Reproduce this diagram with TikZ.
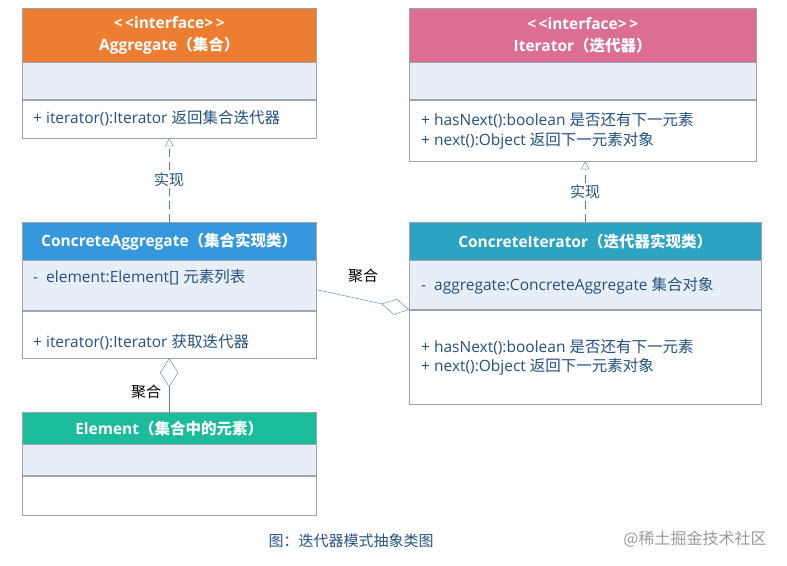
\documentclass[tikz,border=0pt]{standalone}
\usepackage{fontspec}
\setmainfont{Open Sans}
\newfontfamily\cjk{Noto Sans CJK SC}
\usetikzlibrary{arrows.meta}
\definecolor{cOrange}{HTML}{ED7D31}
\definecolor{cPink}{HTML}{DC6E94}
\definecolor{cBlue}{HTML}{3598DC}
\definecolor{cTeal}{HTML}{2BA3C1}
\definecolor{cGreen}{HTML}{1ABC9C}
\definecolor{cAttr}{HTML}{E8EEF7}
\definecolor{cBorder}{HTML}{A0A3AA}
\definecolor{cText}{HTML}{24527F}
\definecolor{cLine}{HTML}{4A82B4}
\definecolor{cGray}{HTML}{9A9A9A}
\newcommand{\zh}[1]{{\cjk #1}}
\tikzset{
  hdr/.style={draw=cBorder, anchor=north west, inner sep=0pt, text=white, font=\fontsize{15.5}{22}\selectfont\bfseries, align=center},
  attr/.style={draw=cBorder, fill=cAttr, anchor=north west, inner sep=0pt},
  meth/.style={draw=cBorder, fill=white, anchor=north west, inner sep=0pt},
  txt/.style={anchor=west, inner sep=0pt, text=cText, font=\fontsize{15.5}{20}\selectfont},
  lbl/.style={fill=white, inner sep=1pt, font=\fontsize{15}{16}\selectfont\cjk},
  real/.style={draw=cLine, dash pattern=on 8pt off 5pt, -{Triangle[open, length=8pt, width=8pt]}},
  aggr/.style={draw=cLine, -{Diamond[open, #1]}},
}
\begin{document}
\begin{tikzpicture}[x=1pt, y=-1pt]
\useasboundingbox (0,0) rectangle (787,565);
% Aggregate
\node[hdr, fill=cOrange, minimum width=294pt, minimum height=54pt] (aggH) at (22,8) {<\,<interface>\,>\\Aggregate\zh{（集合）}};
\node[attr, minimum width=294pt, minimum height=37pt] (aggA) at (aggH.south west) {};
\node[meth, minimum width=294pt, minimum height=38pt] (aggM) at (aggA.south west) {};
\node[txt] (aggM1) at (33,118) {+ iterator():Iterator \zh{返回集合迭代器}};
% Iterator
\node[hdr, fill=cPink, minimum width=347pt, minimum height=54pt] (itH) at (409,8) {<\,<interface>\,>\\Iterator\zh{（迭代器）}};
\node[attr, minimum width=347pt, minimum height=37pt] (itA) at (itH.south west) {};
\node[meth, minimum width=347pt, minimum height=61pt] (itM) at (itA.south west) {};
\node[txt] (itM1) at (421,120) {+ hasNext():boolean \zh{是否还有下一元素}};
\node[txt] (itM2) at (421,141) {+ next():Object \zh{返回下一元素对象}};
% ConcreteAggregate
\node[hdr, fill=cBlue, minimum width=294pt, minimum height=38pt] (caH) at (22,222) {ConcreteAggregate\zh{（集合实现类）}};
\node[attr, minimum width=294pt, minimum height=50pt] (caA) at (caH.south west) {};
\node[meth, minimum width=294pt, minimum height=47pt] (caM) at (caA.south west) {};
\node[txt] (caA1) at (33,277) {-\ \ element:Element[] \zh{元素列表}};
\node[txt] (caM1) at (33,342) {+ iterator():Iterator \zh{获取迭代器}};
% ConcreteIterator
\node[hdr, fill=cTeal, minimum width=352pt, minimum height=38pt] (ciH) at (409,222) {ConcreteIterator\zh{（迭代器实现类）}};
\node[attr, minimum width=352pt, minimum height=49pt] (ciA) at (ciH.south west) {};
\node[meth, minimum width=352pt, minimum height=94pt] (ciM) at (ciA.south west) {};
\node[txt] (ciA1) at (421,286) {-\ \ aggregate:ConcreteAggregate \zh{集合对象}};
\node[txt] (ciM1) at (421,347) {+ hasNext():boolean \zh{是否还有下一元素}};
\node[txt] (ciM2) at (421,367) {+ next():Object \zh{返回下一元素对象}};
% Element
\node[hdr, fill=cGreen, minimum width=294pt, minimum height=32pt] (elH) at (22,412) {Element\zh{（集合中的元素）}};
\node[attr, minimum width=294pt, minimum height=31pt] (elA) at (elH.south west) {};
\node[meth, minimum width=294pt, minimum height=39pt] (elM) at (elA.south west) {};
% connectors
\draw[real] (caH.north) -- node[lbl, text=cText] (r1) {实现} (aggM.south);
\draw[real] (ciH.north) -- node[lbl, text=cText] (r2) {实现} (ciH.north |- itM.south);
\draw[aggr={length=28pt, width=16pt}] ([yshift=-4pt]caA.east) -- (ciA.south west);
\draw[aggr={length=29pt, width=18pt}] (elH.north) -- (caM.south);
\node[font=\fontsize{15}{16}\selectfont\cjk] (l1) at (363,276) {聚合};
\node[lbl] (l2) at (146,392) {聚合};
% caption
\node[text=cText, font=\fontsize{15}{16}\selectfont\cjk] (cap) at (351,541) {图：迭代器模式抽象类图};
\node[text=cGray, font=\fontsize{16}{16}\selectfont\cjk] (wm) at (695,539) {@稀土掘金技术社区};
\end{tikzpicture}
\end{document}
